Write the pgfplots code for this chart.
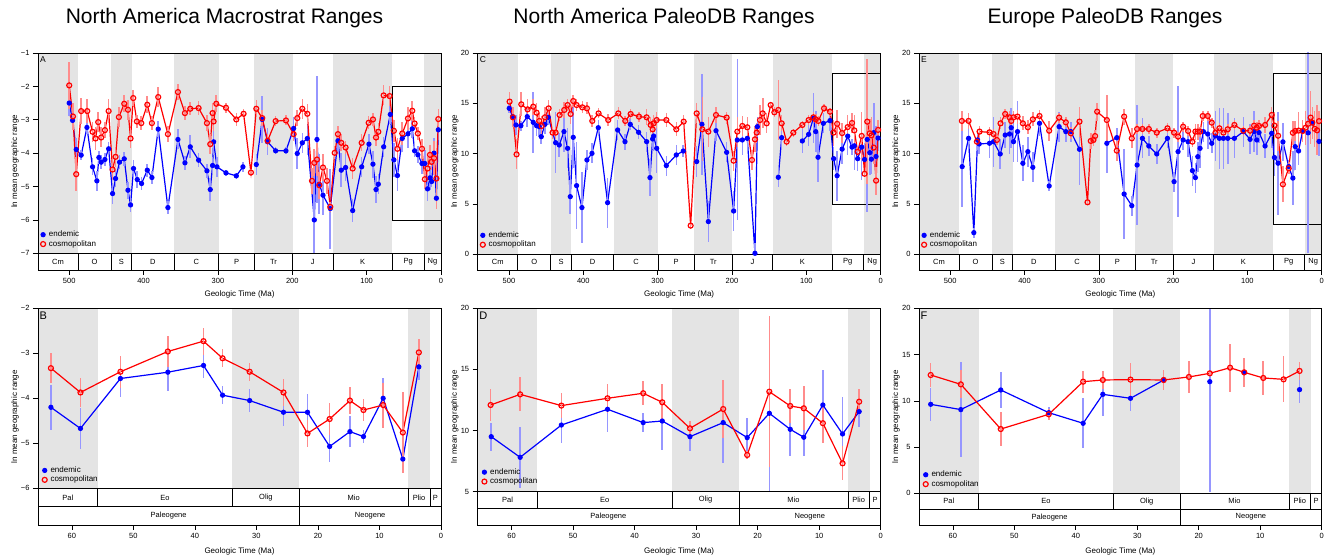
\documentclass[border=0pt]{standalone}
\usepackage{fontspec}
\setmainfont{Liberation Sans}
\usepackage{pgfplots}
\usepackage{pgfplotstable}
\pgfplotsset{compat=1.18}
\definecolor{bandgray}{RGB}{228,228,228}
\definecolor{eb}{RGB}{150,150,255}
\definecolor{er}{RGB}{255,140,140}
\newcommand\tsf{\fontsize{7.5}{8}\selectfont}

\pgfplotstableread{
x y e
500 -2.50 0.40
495.5 -3.02 0.30
490.6 -3.89 0.35
483.9 -4.06 0.15
476.2 -3.23 0.20
468.6 -4.41 0.25
462.8 -4.83 0.30
460.1 -4.13 0.20
457.0 -4.27 0.20
452.0 -4.19 0.20
447.0 -3.87 0.20
441.7 -5.21 0.30
437.7 -4.76 0.25
432.3 -4.27 0.20
426.0 -4.17 0.20
421.0 -5.11 0.25
417.5 -5.55 0.20
413.5 -4.46 0.25
408.5 -4.79 0.25
402.7 -4.91 0.20
395.0 -4.51 0.20
388.8 -4.73 0.20
380.3 -3.28 0.25
367.3 -5.63 0.20
353.8 -3.59 0.30
344.4 -4.29 0.20
337.2 -3.81 0.35
326.0 -4.21 0.20
314.8 -4.53 0.20
310.3 -5.09 0.35
307.2 -4.37 0.25
305.8 -3.66 0.40
301.3 -4.41 0.30
289.2 -4.59 0.10
275.3 -4.68 0.10
266.4 -4.41 0.15
257 nan 0
248.4 -4.34 0.30
240.4 -2.99 0.70
233.2 -3.66 0.40
222.4 -3.93 0.10
208.5 -3.93 0.10
198.2 -3.26 0.35
193.3 -4.01 0.45
186.5 -3.69 0.30
179.8 -3.56 0.50
170.4 -6.00 1.60
166.8 -3.59 1.90
163.7 -4.93 0.90
158.7 -5.26 0.60
148.9 -5.66 1.20
138.6 -3.63 0.40
134.1 -4.51 0.50
128.3 -4.43 0.40
118.8 -5.72 0.35
106.7 -4.41 0.30
96.9 -3.73 0.30
91.5 -4.33 0.40
87.4 -5.09 0.40
84.3 -4.93 0.30
77.1 -3.81 0.30
68.2 -2.84 0.30
63.4 -4.20 0.50
58.6 -4.67 0.45
52.1 -3.56 0.40
44.4 -3.42 0.42
38.6 -3.27 0.27
35.5 -3.93 0.20
31.1 -4.05 0.25
25.6 -4.31 0.30
21.7 -4.31 0.40
18.1 -5.07 0.35
14.8 -4.74 0.35
12.6 -4.85 0.15
9.4 -4.00 0.45
6.2 -5.35 0.30
3.6 -3.30 0.30
}\Aend

\pgfplotstableread{
x y e
500 -1.97 0.70
495.0 -2.90 0.40
490.6 -4.63 0.50
483.9 -2.74 0.40
475.8 -2.74 0.35
468.6 -3.36 0.30
464.6 -3.56 0.35
461.0 -3.07 0.30
457.0 -3.53 0.30
452.0 -3.31 0.25
447.0 -2.74 0.35
441.7 -4.49 0.30
437.7 -4.11 0.30
433.2 -2.92 0.30
426.0 -2.52 0.25
421.0 -2.70 0.30
417.5 -3.56 0.30
413.9 -2.35 0.25
409.0 -3.05 0.20
403.1 -3.10 0.20
395.0 -2.55 0.25
388.8 -3.10 0.20
380.3 -2.32 0.30
367.3 -3.43 0.25
353.8 -2.17 0.25
344.4 -2.80 0.20
337.2 -2.67 0.20
326.0 -2.65 0.20
314.8 -3.10 0.25
310.3 -3.73 0.30
307.2 -2.80 0.30
305.8 -3.05 0.30
302.2 -2.52 0.25
289.2 -2.64 0.15
275.3 -2.99 0.20
265.5 -2.82 0.15
255.6 -4.58 0.10
248.4 -2.67 0.25
240.4 -2.95 0.25
233.2 -3.63 0.20
222.4 -3.04 0.15
208.5 -3.02 0.15
198.2 -3.43 0.20
193.3 -2.95 0.25
186.5 -2.67 0.30
179.8 -2.82 0.30
173.5 -4.83 0.40
170.4 -4.29 0.40
166.8 -4.19 0.50
163.7 -4.96 0.40
158.7 -4.43 0.40
153.4 -4.83 0.40
148.9 -5.61 0.15
143.0 -3.99 0.20
138.6 -3.43 0.25
134.1 -3.69 0.25
128.3 -3.83 0.20
118.8 -4.46 0.30
106.7 -3.69 0.25
97.3 -3.09 0.20
91.5 -2.99 0.20
87.4 -3.53 0.25
84.3 -3.36 0.25
77.1 -2.27 0.30
69.1 -2.29 0.30
63.4 -3.33 0.33
58.6 -3.87 0.33
52.1 -3.41 0.35
44.4 -2.96 0.35
38.6 -2.73 0.30
35.5 -3.11 0.20
31.1 -3.41 0.20
25.6 -3.87 0.30
21.7 -4.78 0.30
18.1 -4.46 0.35
14.8 -4.05 0.30
12.6 -4.26 0.25
9.4 -4.15 0.50
6.2 -4.76 0.90
3.6 -2.98 0.30
}\Acos

\pgfplotstableread{
x y e
63.4 -4.20 0.50
58.6 -4.67 0.45
52.1 -3.56 0.40
44.4 -3.42 0.42
38.6 -3.27 0.27
35.5 -3.93 0.20
31.1 -4.05 0.25
25.6 -4.31 0.30
21.7 -4.31 0.40
18.1 -5.07 0.35
14.8 -4.74 0.35
12.6 -4.85 0.15
9.4 -4.00 0.45
6.2 -5.35 0.30
3.6 -3.30 0.30
}\Bend

\pgfplotstableread{
x y e
63.4 -3.33 0.33
58.6 -3.87 0.33
52.1 -3.41 0.35
44.4 -2.96 0.35
38.6 -2.73 0.30
35.5 -3.11 0.20
31.1 -3.41 0.20
25.6 -3.87 0.30
21.7 -4.78 0.30
18.1 -4.46 0.35
14.8 -4.05 0.30
12.6 -4.26 0.25
9.4 -4.15 0.50
6.2 -4.76 0.90
3.6 -2.98 0.30
}\Bcos

\pgfplotstableread{
x y e
499.6 14.50 0.5
495.0 13.68 0.7
490.6 12.85 1.0
483.9 12.78 0.5
475.3 13.68 1.0
467.3 13.11 3.0
462.8 12.78 1.0
459.2 12.68 1.0
456.5 11.69 0.7
451.6 12.91 1.0
447.1 13.61 0.8
437.2 11.09 3.0
432.3 10.86 1.2
426.0 12.19 2.0
421.1 10.53 2.0
417.5 5.73 1.7
413.5 11.62 3.0
409.0 6.82 4.3
401.8 4.64 3.5
395.1 9.37 1.0
388.3 10.03 1.0
379.8 12.58 0.8
367.3 5.13 2.5
353.8 12.35 1.0
343.9 11.19 0.8
336.8 12.91 0.6
325.6 12.12 0.7
314.8 11.19 1.0
310.3 7.62 1.8
306.7 11.46 1.0
305.4 11.75 1.5
301.3 10.53 2.5
288.3 8.81 1.0
274.9 9.87 1.0
265.5 10.26 0.6
256 nan 0
247.5 9.21 1.5
240.4 12.91 5.0
231.8 3.25 2.0
221.5 12.28 1.0
207.2 10.13 1.0
197.8 4.30 2.0
192.8 11.36 8.0
186.1 11.36 1.5
179.4 11.52 1.5
169.1 0.10 1.0
165.9 12.68 1.0
150 nan 0
137.7 7.65 1.0
133.2 11.59 1.2
120 nan 0
105.4 11.26 1.2
96.9 11.92 1.2
90.6 13.51 2.5
87.4 12.19 2.0
84.3 9.64 2.5
77.1 13.01 1.0
68.2 13.28 1.0
63.3 9.50 1.15
58.6 7.81 2.5
51.9 10.45 1.5
44.4 11.74 1.9
38.6 10.65 0.8
35.5 10.78 2.4
31.0 9.50 1.2
25.6 10.65 3.3
21.7 9.42 1.6
18.1 11.41 7.2
14.7 10.10 2.2
12.5 9.45 1.5
9.4 12.09 2.9
6.2 9.72 3.0
3.5 11.55 1.3
}\Cend

\pgfplotstableread{
x y e
499.1 15.17 1.0
494.6 13.61 1.0
489.7 9.93 1.5
483.4 14.90 1.2
474.9 14.40 1.0
467.3 14.67 0.8
462.8 14.07 1.0
459.2 13.25 0.8
456.0 12.75 1.0
451.6 13.61 1.0
446.6 14.50 0.8
441.3 12.09 0.6
437.2 12.09 0.6
431.8 13.84 0.6
425.6 14.34 0.8
421.1 14.83 0.6
417.0 13.94 1.0
413.5 15.23 0.6
409.0 14.83 0.6
401.3 14.60 0.6
395.1 14.50 0.6
387.9 13.25 0.6
379.4 14.00 0.5
366.4 13.34 0.6
352.9 14.00 0.6
343.5 13.25 0.5
336.3 13.94 0.5
325.1 13.68 0.5
314.8 13.61 0.8
309.4 12.85 0.8
306.7 12.42 1.0
305.4 13.01 0.8
301.3 13.34 0.8
288.3 13.34 0.7
274.9 12.42 0.7
265.0 13.18 0.7
255.6 2.85 0.3
247.5 14.00 1.0
239.9 12.42 3.2
231.8 12.19 1.5
221.5 13.84 0.8
207.2 13.58 0.6
197.8 9.30 1.0
192.8 12.19 1.5
186.1 12.75 1.0
179.4 12.62 1.0
173.1 9.37 1.0
169.1 11.42 1.3
166.8 12.09 1.0
162.3 13.34 1.5
158.7 14.00 1.5
153.4 13.01 1.0
148.0 14.83 0.3
143.0 14.11 0.5
137.7 14.34 3.0
133.2 13.01 0.8
126.5 11.19 0.4
117.5 12.09 0.4
105.4 12.85 0.4
96.9 13.34 0.5
90.6 13.61 0.5
87.4 13.41 0.5
83.9 13.25 0.5
76.2 14.50 0.4
68.2 14.17 0.4
63.4 12.09 1.3
58.6 12.96 1.4
51.9 12.04 1.0
44.4 12.64 1.2
38.6 13.05 1.0
35.5 12.31 1.5
31.0 10.18 0.6
25.6 11.76 2.4
21.7 8.00 0.3
18.1 13.18 6.2
14.7 12.01 1.4
12.5 11.82 1.8
9.4 10.60 1.6
6.2 7.32 1.4
3.5 12.36 1.0
}\Ccos

\pgfplotstableread{
x y e
63.3 9.50 1.15
58.6 7.81 2.5
51.9 10.45 1.5
44.4 11.74 1.9
38.6 10.65 0.8
35.5 10.78 2.4
31.0 9.50 1.2
25.6 10.65 3.3
21.7 9.42 1.6
18.1 11.41 7.2
14.7 10.10 2.2
12.5 9.45 1.5
9.4 12.09 2.9
6.2 9.72 3.0
3.5 11.55 1.3
}\Dend

\pgfplotstableread{
x y e
63.4 12.09 1.3
58.6 12.96 1.4
51.9 12.04 1.0
44.4 12.64 1.2
38.6 13.05 1.0
35.5 12.31 1.5
31.0 10.18 0.6
25.6 11.76 2.4
21.7 8.00 0.3
18.1 13.18 6.2
14.7 12.01 1.4
12.5 11.82 1.8
9.4 10.60 1.6
6.2 7.32 1.4
3.5 12.36 1.0
}\Dcos

\pgfplotstableread{
x y e
483.9 8.71 4.0
475.3 11.52 1.5
468.2 2.15 0.5
463.2 11.36 1.0
461.0 10.96 1.0
447.1 11.03 1.5
441.7 11.19 2.5
432.7 9.97 1.5
426.0 11.85 1.3
420.2 11.95 2.0
417.9 12.58 2.0
414.8 11.19 2.0
409.4 12.19 3.0
402.2 9.04 1.8
395.5 10.20 1.5
388.8 8.64 1.5
379.8 13.01 1.3
366.8 6.79 0.5
353.4 12.68 1.5
344.4 12.19 1.0
337.7 12.19 1.0
326.0 10.43 3.5
305 nan 0
289.2 11.03 3.0
275.8 11.59 1.0
265.9 5.99 4.5
255.6 4.83 1.0
248.4 8.87 6.0
241.3 11.52 2.0
232.7 10.76 1.0
222.0 9.97 1.0
207.6 11.52 1.0
198.7 7.22 1.0
193.3 10.20 6.5
186.5 11.36 1.0
179.8 11.19 1.5
174.0 8.31 1.5
170.0 7.62 1.5
166.8 9.70 1.5
163.7 10.53 2.0
159.2 12.19 1.0
153.4 11.95 1.5
148.0 11.03 1.0
143.0 11.76 2.5
137.7 11.52 3.0
132.3 11.52 3.0
126.5 11.52 2.5
117.5 11.52 2.0
105.4 12.19 1.5
96.4 11.42 1.5
91.0 12.19 2.0
87.4 11.36 1.5
84.3 12.09 1.0
76.2 10.76 1.2
67.3 12.02 1.5
63.6 9.62 1.8
58.7 9.05 5.1
52.2 11.17 1.9
44.4 8.72 0.6
38.8 7.57 2.7
35.6 10.70 2.3
31.1 10.27 1.4
25.7 12.25 0.5
22 nan 0
18.2 12.07 11.9
15 nan 0
12.6 13.05 1.2
8 nan 0
3.6 11.21 1.4
}\Eend

\pgfplotstableread{
x y e
484.3 13.25 1.0
475.3 13.25 0.8
464.1 11.19 0.3
460.5 12.19 0.6
447.1 12.12 0.5
441.7 11.95 0.5
437.2 11.36 0.5
432.3 13.01 0.6
426.0 13.94 0.5
420.2 13.61 0.6
417.9 13.25 0.6
414.8 13.61 0.6
409.4 13.68 0.7
402.2 13.01 0.7
395.5 12.62 0.7
388.8 13.41 0.7
379.8 13.74 0.6
366.8 12.28 1.0
353.4 13.58 0.5
344.4 13.11 0.5
337.7 12.02 0.6
326.0 13.18 1.5
315.2 5.17 0.3
310.8 11.26 0.8
307.2 11.36 0.6
305.0 11.75 0.6
302.2 14.17 0.9
289.2 13.34 2.5
275.8 10.30 1.0
265.9 13.68 0.8
255.6 11.52 1.0
248.4 12.45 0.5
241.3 12.45 0.5
232.7 12.45 0.5
222.0 12.09 0.5
207.6 12.52 0.5
198.7 12.09 0.5
193.3 11.69 0.5
186.5 12.68 0.5
179.8 12.25 0.5
174.0 11.19 0.5
170.0 12.19 0.8
166.8 12.19 0.8
163.7 12.19 0.5
160.1 13.74 0.5
153.4 13.74 0.5
148.0 13.08 0.5
143.0 12.09 0.6
137.7 12.52 0.5
132.3 12.09 0.5
126.5 12.42 0.5
117.5 12.85 0.5
105.4 12.28 0.5
96.4 12.28 0.5
91.0 12.78 0.6
87.4 12.58 0.6
84.3 12.75 0.6
76.2 12.85 0.8
67.3 13.84 0.8
63.6 12.79 1.3
58.7 11.78 1.5
52.2 6.95 1.8
44.4 8.54 0.6
38.8 12.07 1.2
35.6 12.25 1.0
31.1 12.29 1.8
25.7 12.25 1.1
21.6 12.58 1.7
18.2 12.97 0.3
14.9 13.58 2.6
12.6 13.08 1.6
9.5 12.47 1.8
6.2 12.32 2.5
3.6 13.23 1.0
}\Ecos

\pgfplotstableread{
x y e
63.6 9.62 1.8
58.7 9.05 5.1
52.2 11.17 1.9
44.4 8.72 0.6
38.8 7.57 2.7
35.6 10.70 2.3
31.1 10.27 1.4
25.7 12.25 0.5
22 nan 0
18.2 12.07 11.9
15 nan 0
12.6 13.05 1.2
8 nan 0
3.6 11.21 1.4
}\Fend

\pgfplotstableread{
x y e
63.6 12.79 1.3
58.7 11.78 1.5
52.2 6.95 1.8
44.4 8.54 0.6
38.8 12.07 1.2
35.6 12.25 1.0
31.1 12.29 1.8
25.7 12.25 1.1
21.6 12.58 1.7
18.2 12.97 0.3
14.9 13.58 2.6
12.6 13.08 1.6
9.5 12.47 1.8
6.2 12.32 2.5
3.6 13.23 1.0
}\Fcos

\pgfplotsset{
 panel/.style={scale only axis, x dir=reverse, axis on top, clip=true,
   tick align=outside, xtick pos=left, ytick pos=left, major tick length=5pt,
   minor tick num=0,
   axis line style={black,line width=0.6pt}, tick style={black,line width=0.6pt},
   ticklabel style={font=\fontsize{7.5}{8}\selectfont},
   /pgf/number format/assume math mode=true,
   ylabel={ln mean geographic range}, xlabel={Geologic Time (Ma)},
   label style={font=\fontsize{8}{9}\selectfont},
   ylabel style={at={(axis description cs:-0.057,0.5)}, anchor=center},
   legend cell align=left,
   legend image code/.code={\draw[##1,only marks] plot coordinates {(0pt,0pt)};},
   legend style={draw=none, fill=none, anchor=south west,
     font=\fontsize{8}{9}\selectfont, inner xsep=0pt, inner ysep=0pt,
     nodes={inner sep=0.8pt}, column sep=2.5pt, row sep=0.5pt},
 },
 toprow/.style={width=403pt, height=217pt, xmin=0, xmax=542,
   xtick={0,100,200,300,400,500},
   xlabel style={at={(axis description cs:0.5,0)}, anchor=center, yshift=-24.5pt}},
 botrow/.style={width=403pt, height=216.7pt, xmin=0, xmax=65.5,
   xtick={0,10,20,30,40,50,60},
   xlabel style={at={(axis description cs:0.5,0)}, anchor=center, yshift=-26.7pt}},
 endem/.style={color=blue, line width=1.2pt, mark=*, mark size=2pt,
   mark options={solid}, unbounded coords=jump,
   error bars/.cd, y dir=both, y explicit, error mark=none,
   error bar style={color=eb, line width=1.6pt}},
 cosmo/.style={color=red, line width=1.2pt, mark=o, mark size=2.5pt,
   mark options={solid, line width=1.2pt}, unbounded coords=jump,
   error bars/.cd, y dir=both, y explicit, error mark=none,
   error bar style={color=er, line width=1.6pt}},
}

\newcommand\tsbox[5]{%
 \draw[black,line width=0.6pt,fill=white] (axis cs:#1,#3) rectangle (axis cs:#2,#4);
 \node[font=\tsf,inner sep=0pt] at (axis cs:{(#1+#2)/2},{(#3+#4)/2}) {#5};}
\newcommand\topbands[2]{%
 \fill[bandgray] (axis cs:542,#1) rectangle (axis cs:488.3,#2);
 \fill[bandgray] (axis cs:443.7,#1) rectangle (axis cs:416,#2);
 \fill[bandgray] (axis cs:359.2,#1) rectangle (axis cs:299,#2);
 \fill[bandgray] (axis cs:251,#1) rectangle (axis cs:199.6,#2);
 \fill[bandgray] (axis cs:145.5,#1) rectangle (axis cs:65.5,#2);
 \fill[bandgray] (axis cs:23.03,#1) rectangle (axis cs:0,#2);}
\newcommand\topscale[2]{%
 \tsbox{542}{488.3}{#1}{#2}{Cm}
 \tsbox{488.3}{443.7}{#1}{#2}{O}
 \tsbox{443.7}{416}{#1}{#2}{S}
 \tsbox{416}{359.2}{#1}{#2}{D}
 \tsbox{359.2}{299}{#1}{#2}{C}
 \tsbox{299}{251}{#1}{#2}{P}
 \tsbox{251}{199.6}{#1}{#2}{Tr}
 \tsbox{199.6}{145.5}{#1}{#2}{J}
 \tsbox{145.5}{65.5}{#1}{#2}{K}
 \tsbox{65.5}{23.03}{#1}{#2}{Pg}
 \tsbox{23.03}{0}{#1}{#2}{Ng}}
\newcommand\botbands[2]{%
 \fill[bandgray] (axis cs:65.5,#1) rectangle (axis cs:55.8,#2);
 \fill[bandgray] (axis cs:33.9,#1) rectangle (axis cs:23.03,#2);
 \fill[bandgray] (axis cs:5.332,#1) rectangle (axis cs:1.806,#2);}
\newcommand\botscale[3]{%
 \tsbox{65.5}{55.8}{#2}{#3}{Pal}
 \tsbox{55.8}{33.9}{#2}{#3}{Eo}
 \tsbox{33.9}{23.03}{#2}{#3}{Olig}
 \tsbox{23.03}{5.332}{#2}{#3}{Mio}
 \tsbox{5.332}{1.806}{#2}{#3}{Plio}
 \tsbox{1.806}{0}{#2}{#3}{P}
 \tsbox{65.5}{23.03}{#1}{#2}{Paleogene}
 \tsbox{23.03}{0}{#1}{#2}{Neogene}}

\begin{document}
\begin{tikzpicture}
\useasboundingbox (0pt,0pt) rectangle (1326pt,557pt);
\node[font=\fontsize{21}{25}\selectfont] at (224.5pt,539pt) {North America Macrostrat Ranges};
\node[font=\fontsize{21}{25}\selectfont] at (664pt,539pt) {North America PaleoDB Ranges};
\node[font=\fontsize{21}{25}\selectfont] at (1105pt,539pt) {Europe PaleoDB Ranges};

% ---------- A ----------
\begin{axis}[panel, toprow, at={(38pt,287pt)}, anchor=south west,
  ymin=-7.5, ymax=-1, ytick={-7,-6,-5,-4,-3,-2,-1},
  yticklabels={−7,−6,−5,−4,−3,−2,−1},
  legend style={at={(axis description cs:0.006,0.098)}}]
\topbands{-7}{-1}
\draw[black,line width=0.8pt] (axis cs:65.5,-6) rectangle (axis cs:0,-2);
\addplot[endem] table[x index=0,y index=1,y error index=2] {\Aend};
\addplot[cosmo] table[x index=0,y index=1,y error index=2] {\Acos};
\topscale{-7.5}{-7}
\node[anchor=north west,font=\fontsize{8.5}{9}\selectfont,inner sep=0pt] at ([xshift=2pt,yshift=-3pt]rel axis cs:0,1) {A};
\legend{endemic,cosmopolitan}
\end{axis}

% ---------- C ----------
\begin{axis}[panel, toprow, at={(477.7pt,287pt)}, anchor=south west,
  ymin=-1.56, ymax=20, ytick={0,5,10,15,20},
  legend style={at={(axis description cs:0.006,0.095)}}]
\topbands{0}{20}
\draw[black,line width=0.8pt] (axis cs:65.5,5) rectangle (axis cs:0,18);
\addplot[endem] table[x index=0,y index=1,y error index=2] {\Cend};
\addplot[cosmo] table[x index=0,y index=1,y error index=2] {\Ccos};
\topscale{-1.56}{0}
\node[anchor=north west,font=\fontsize{8.5}{9}\selectfont,inner sep=0pt] at ([xshift=2pt,yshift=-3pt]rel axis cs:0,1) {C};
\legend{endemic,cosmopolitan}
\end{axis}

% ---------- E ----------
\begin{axis}[panel, toprow, at={(919pt,287pt)}, anchor=south west, width=402.7pt,
  ymin=-1.56, ymax=20, ytick={0,5,10,15,20},
  legend style={at={(axis description cs:0.006,0.095)}}]
\topbands{0}{20}
\draw[black,line width=0.8pt] (axis cs:65.5,3) rectangle (axis cs:0,18);
\addplot[endem] table[x index=0,y index=1,y error index=2] {\Eend};
\addplot[cosmo] table[x index=0,y index=1,y error index=2] {\Ecos};
\topscale{-1.56}{0}
\node[anchor=north west,font=\fontsize{8.5}{9}\selectfont,inner sep=0pt] at ([xshift=2pt,yshift=-3pt]rel axis cs:0,1) {E};
\legend{endemic,cosmopolitan}
\end{axis}

% ---------- B ----------
\begin{axis}[panel, botrow, at={(38pt,32pt)}, anchor=south west,
  ymin=-6.815, ymax=-2, ytick={-6,-5,-4,-3,-2},
  yticklabels={−6,−5,−4,−3,−2},
  legend style={at={(axis description cs:0.01,0.187)}}]
\botbands{-6}{-2}
\addplot[endem] table[x index=0,y index=1,y error index=2] {\Bend};
\addplot[cosmo] table[x index=0,y index=1,y error index=2] {\Bcos};
\botscale{-6.815}{-6.408}{-6}
\node[anchor=north west,font=\fontsize{11}{12}\selectfont,inner sep=0pt] at ([xshift=1.5pt,yshift=-3pt]rel axis cs:0,1) {B};
\legend{endemic,cosmopolitan}
\end{axis}

% ---------- D ----------
\begin{axis}[panel, botrow, at={(477.7pt,32pt)}, anchor=south west,
  ymin=2.273, ymax=20, ytick={5,10,15,20},
  legend style={at={(axis description cs:0.01,0.179)}}]
\botbands{5}{20}
\addplot[endem] table[x index=0,y index=1,y error index=2] {\Dend};
\addplot[cosmo] table[x index=0,y index=1,y error index=2] {\Dcos};
\botscale{2.273}{3.636}{5}
\node[anchor=north west,font=\fontsize{11}{12}\selectfont,inner sep=0pt] at ([xshift=1.5pt,yshift=-3pt]rel axis cs:0,1) {D};
\legend{endemic,cosmopolitan}
\end{axis}

% ---------- F ----------
\begin{axis}[panel, botrow, at={(919pt,32pt)}, anchor=south west, width=402.7pt,
  ymin=-3.423, ymax=20, ytick={0,5,10,15,20},
  legend style={at={(axis description cs:0.01,0.167)}}]
\botbands{0}{20}
\addplot[endem] table[x index=0,y index=1,y error index=2] {\Fend};
\addplot[cosmo] table[x index=0,y index=1,y error index=2] {\Fcos};
\botscale{-3.423}{-1.712}{0}
\node[anchor=north west,font=\fontsize{11}{12}\selectfont,inner sep=0pt] at ([xshift=1.5pt,yshift=-3pt]rel axis cs:0,1) {F};
\legend{endemic,cosmopolitan}
\end{axis}
\end{tikzpicture}
\end{document}
